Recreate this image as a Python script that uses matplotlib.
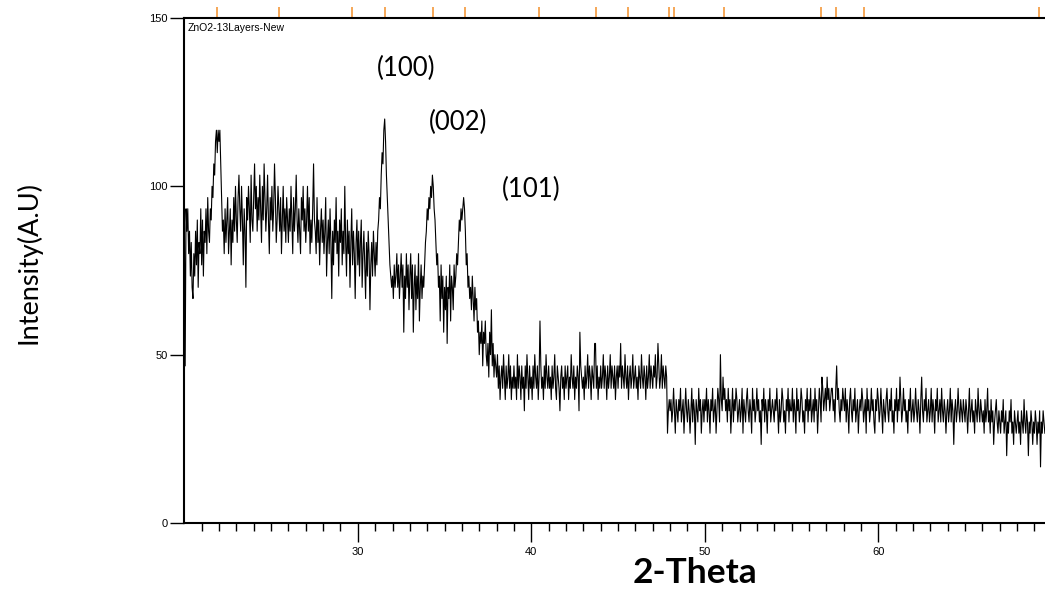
import numpy as np
import matplotlib
matplotlib.use("Agg")
import matplotlib.pyplot as plt
import matplotlib.transforms as mtransforms

# XRD scan: start angle, step, raw counts per step (0.3 s per step)
start_2theta = 20.0
step_2theta = 0.05
count_time = 0.3
counts = [
    28, 14, 28, 26, 28, 24, 26, 22, 25, 21, 20, 24, 22, 26, 23, 27, 21, 25, 24, 28,  # 20
    23, 27, 22, 26, 25, 28, 24, 29, 26, 25, 28, 27, 30, 29, 32, 31, 34, 35, 33, 35,  # 21
    34, 35, 32, 29, 26, 27, 24, 28, 25, 27, 29, 24, 26, 28, 23, 27, 25, 29, 26, 30,  # 22
    27, 25, 29, 31, 28, 26, 30, 27, 23, 28, 26, 21, 29, 27, 30, 28, 25, 31, 27, 26,  # 23
    29, 32, 28, 30, 26, 29, 27, 31, 28, 25, 30, 27, 32, 29, 26, 28, 31, 27, 24, 29,  # 24
    27, 30, 26, 28, 32, 29, 25, 27, 30, 28, 26, 29, 24, 27, 30, 26, 28, 25, 29, 27,  # 25
    25, 28, 26, 30, 27, 24, 29, 26, 28, 31, 27, 25, 28, 26, 24, 29, 27, 30, 26, 28,  # 26
    25, 27, 30, 26, 29, 24, 27, 25, 28, 32, 27, 26, 24, 29, 25, 27, 23, 26, 28, 25,  # 27
    27, 24, 26, 29, 22, 25, 27, 24, 28, 25, 20, 26, 23, 27, 25, 29, 24, 26, 22, 27,  # 28
    25, 28, 23, 26, 24, 30, 25, 22, 27, 24, 26, 21, 25, 28, 23, 26, 24, 20, 25, 27,  # 29
    23, 26, 22, 25, 27, 21, 24, 26, 23, 20, 25, 22, 26, 24, 19, 23, 25, 22, 26, 24,  # 30
    22, 25, 23, 26, 27, 29, 28, 31, 33, 32, 35, 36, 34, 31, 29, 27, 25, 23, 22, 21,  # 31
    22, 20, 23, 21, 22, 24, 21, 23, 20, 22, 24, 21, 23, 17, 22, 20, 24, 21, 23, 19,  # 32
    22, 24, 20, 23, 17, 21, 23, 19, 22, 20, 24, 18, 21, 23, 20, 22, 21, 23, 25, 26,  # 33
    28, 27, 29, 28, 30, 29, 31, 30, 28, 27, 25, 23, 24, 21, 22, 18, 23, 20, 22, 17,  # 34
    21, 19, 22, 16, 21, 20, 23, 18, 22, 21, 19, 23, 21, 22, 24, 23, 25, 27, 26, 28,  # 35
    27, 28, 29, 28, 26, 23, 24, 21, 22, 20, 21, 19, 22, 20, 18, 21, 19, 20, 17, 18,  # 36
    15, 17, 16, 18, 14, 17, 16, 18, 15, 14, 16, 13, 17, 15, 19, 14, 16, 13, 15, 14,  # 37
    13, 15, 12, 14, 11, 13, 14, 12, 15, 13, 11, 14, 12, 13, 15, 12, 14, 11, 13, 12,  # 38
    14, 12, 13, 11, 15, 12, 14, 13, 11, 14, 12, 13, 10, 14, 12, 15, 13, 11, 14, 12,  # 39
    13, 11, 14, 12, 15, 13, 12, 14, 11, 13, 18, 14, 12, 13, 11, 14, 12, 15, 13, 12,  # 40
    14, 12, 13, 11, 14, 12, 13, 15, 12, 11, 14, 13, 12, 10, 13, 14, 12, 13, 11, 14,  # 41
    12, 13, 14, 11, 13, 12, 15, 13, 12, 14, 11, 13, 12, 14, 13, 10, 17, 14, 13, 12,  # 42
    13, 11, 14, 12, 13, 15, 12, 14, 13, 11, 14, 13, 12, 16, 16, 12, 14, 11, 13, 12,  # 43
    14, 12, 13, 15, 12, 14, 13, 11, 14, 12, 13, 15, 12, 14, 13, 12, 14, 11, 13, 14,  # 44
    12, 14, 13, 16, 12, 14, 13, 12, 15, 13, 12, 14, 11, 13, 14, 12, 13, 15, 12, 13,  # 45
    14, 12, 13, 11, 14, 13, 12, 15, 13, 12, 14, 13, 11, 14, 12, 13, 15, 12, 14, 13,  # 46
    12, 14, 13, 15, 12, 13, 16, 14, 12, 13, 15, 12, 14, 13, 12, 14, 13, 8, 10, 11,  # 47
    10, 11, 9, 10, 12, 10, 8, 11, 10, 9, 11, 10, 12, 9, 10, 11, 8, 10, 12, 10,  # 48
    9, 11, 10, 8, 10, 12, 9, 11, 10, 7, 11, 10, 9, 12, 10, 11, 8, 10, 11, 9,  # 49
    11, 10, 12, 9, 11, 10, 8, 11, 10, 12, 9, 10, 11, 8, 10, 12, 11, 9, 15, 11,  # 50
    10, 13, 11, 12, 10, 11, 9, 12, 10, 11, 8, 10, 12, 9, 11, 10, 12, 11, 9, 10,  # 51
    11, 9, 10, 12, 8, 11, 10, 9, 11, 12, 10, 9, 11, 10, 8, 12, 10, 11, 9, 10,  # 52
    12, 10, 11, 9, 10, 7, 11, 10, 12, 9, 11, 10, 8, 11, 10, 12, 9, 10, 11, 10,  # 53
    9, 11, 10, 12, 10, 8, 11, 9, 10, 12, 11, 9, 10, 8, 11, 10, 12, 9, 11, 10,  # 54
    10, 12, 9, 11, 10, 8, 12, 10, 11, 9, 10, 12, 11, 9, 10, 8, 11, 10, 12, 9,  # 55
    11, 10, 12, 9, 10, 11, 9, 12, 10, 11, 8, 10, 12, 11, 9, 13, 12, 10, 11, 12,  # 56
    10, 13, 11, 12, 10, 11, 12, 12, 10, 11, 9, 12, 14, 11, 12, 10, 9, 11, 10, 12,  # 57
    11, 10, 12, 9, 11, 10, 8, 11, 12, 10, 9, 11, 10, 12, 9, 10, 11, 8, 10, 11,  # 58
    10, 12, 11, 9, 10, 11, 8, 12, 10, 11, 9, 10, 12, 10, 11, 9, 8, 11, 10, 12,  # 59
    11, 9, 10, 12, 10, 8, 11, 10, 9, 11, 12, 10, 9, 11, 10, 12, 9, 10, 8, 11,  # 60
    10, 12, 9, 11, 10, 13, 11, 9, 10, 12, 10, 11, 9, 10, 8, 11, 10, 12, 9, 10,  # 61
    11, 9, 10, 12, 10, 9, 11, 10, 8, 11, 13, 10, 9, 11, 10, 12, 9, 10, 11, 9,  # 62
    10, 12, 9, 11, 10, 8, 11, 10, 12, 9, 10, 11, 9, 12, 10, 9, 11, 10, 8, 10,  # 63
    11, 9, 10, 12, 9, 11, 10, 7, 10, 11, 9, 10, 12, 10, 9, 11, 10, 9, 11, 10,  # 64
    9, 11, 10, 8, 10, 12, 9, 10, 11, 9, 10, 8, 11, 10, 9, 12, 10, 9, 11, 10,  # 65
    9, 10, 8, 11, 9, 10, 12, 9, 10, 8, 11, 9, 10, 7, 9, 10, 11, 9, 8, 10,  # 66
    9, 8, 10, 9, 11, 8, 9, 10, 6, 9, 8, 10, 9, 11, 8, 9, 7, 10, 9, 8,  # 67
    9, 10, 8, 9, 7, 10, 9, 8, 11, 9, 8, 10, 9, 6, 9, 8, 10, 9, 7, 9,  # 68
    8, 10, 9, 7, 9, 8, 10, 5, 9, 8, 10, 9, 8,  # 69
]

# reference card line positions (orange marks above the frame)
ref_lines = [21.88, 25.44, 29.65, 31.56, 34.31, 36.16, 40.44, 43.73, 45.58,
             47.91, 48.22, 51.10, 56.70, 57.54, 59.16, 69.28]

# peak labels: text, 2-theta, intensity
peak_labels = ["(100)", "(002)", "(101)"]
peak_x = [32.8, 35.8, 40.0]
peak_y = [135, 119, 99]

y_ticks = [0, 50, 100, 150]
x_ticks = [30, 40, 50, 60]

two_theta = start_2theta + step_2theta * np.arange(len(counts))
intensity = np.array(counts) / count_time

fig = plt.figure(figsize=(10.45, 5.91), dpi=100)
ax = fig.add_axes([184.3 / 1045, 68 / 591, 1 - 184.3 / 1045, 505 / 591])

ax.plot(two_theta, intensity, color="black", linewidth=0.8)

ax.set_xlim(20, 20 + (1045 - 184.3) / 17.35)
ax.set_ylim(0, 150)

ax.set_yticks(y_ticks)
ax.set_xticks(x_ticks)
ax.set_xticks(np.arange(21, 70, 1), minor=True)
ax.tick_params(axis="y", direction="out", length=10, width=1, labelsize=8, pad=2)
ax.tick_params(axis="x", which="major", direction="out", length=14, width=1,
               labelsize=8, pad=3)
ax.tick_params(axis="x", which="minor", direction="out", length=6, width=1)
for lbl in ax.get_xticklabels() + ax.get_yticklabels():
    lbl.set_family(["Liberation Sans", "DejaVu Sans"])

for side in ["left", "bottom", "top"]:
    ax.spines[side].set_linewidth(1.5)
    ax.spines[side].set_color("black")
ax.spines["right"].set_visible(False)

# orange reference marks sitting on top of the frame
trans = mtransforms.blended_transform_factory(ax.transData, ax.transAxes)
ax.vlines(ref_lines, 1.0, 1.0 + 11 / 505, transform=trans, colors="#f5a04a",
          linewidth=1.3, clip_on=False)

ax.text(0.004, 0.99, "ZnO2-13Layers-New", transform=ax.transAxes, ha="left",
        va="top", fontsize=7.5, family=["Liberation Sans", "DejaVu Sans"])

for lbl, px, py in zip(peak_labels, peak_x, peak_y):
    ax.text(px, py, lbl, ha="center", va="center", fontsize=18.5,
            family=["Lato", "DejaVu Sans"])

fig.text(28 / 1045, 1 - 262 / 591, "Intensity(A.U)", rotation=90, ha="center",
         va="center", fontsize=19.5, family=["Lato", "DejaVu Sans"])
fig.text(695 / 1045, 1 - 573 / 591, "2-Theta", ha="center", va="center",
         fontsize=25.5, fontweight="bold", family=["Lato", "DejaVu Sans"])

fig.savefig("out.png", dpi=100)
